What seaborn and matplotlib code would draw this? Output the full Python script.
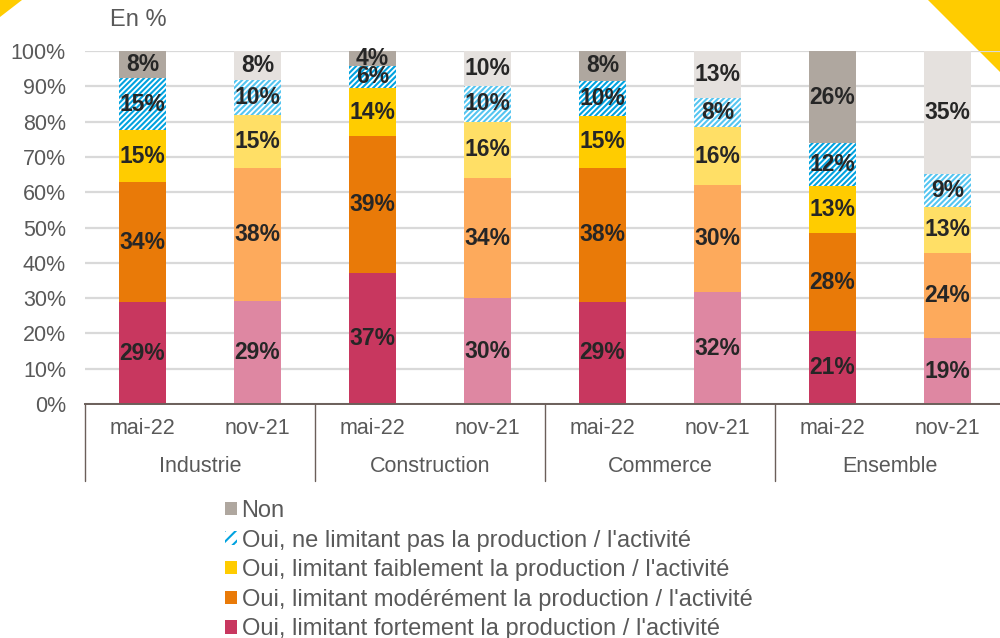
import numpy as np
import pandas as pd
import matplotlib
matplotlib.use("Agg")
import matplotlib.pyplot as plt
from matplotlib.patches import Patch, Polygon
import seaborn as sns

# ---------------- data ----------------
sectors = ["Industrie", "Construction", "Commerce", "Ensemble"]
periods = ["mai-22", "nov-21"]
series = [
    "Oui, limitant fortement la production / l'activité",
    "Oui, limitant modérément la production / l'activité",
    "Oui, limitant faiblement la production / l'activité",
    "Oui, ne limitant pas la production / l'activité",
    "Non",
]
# order of bars: Industrie mai-22, nov-21, Construction mai-22, nov-21, ...
fortement = [28.8, 29.2, 37.1, 30.0, 28.9, 31.6, 20.7, 18.6]
moderement = [34.0, 37.6, 38.8, 34.0, 38.0, 30.4, 27.7, 24.2]
faiblement = [14.8, 15.0, 13.6, 16.0, 14.8, 16.4, 13.4, 13.0]
ne_limitant_pas = [14.7, 10.0, 6.3, 10.2, 9.9, 8.3, 12.1, 9.4]
non = [7.7, 8.2, 4.2, 9.8, 8.4, 13.3, 26.1, 34.8]
layers = [fortement, moderement, faiblement, ne_limitant_pas, non]

colors_mai = ["#C8375F", "#E97A08", "#FFCC00", "#00A2DF", "#AFA79F"]
colors_nov = ["#DE87A2", "#FDAA5C", "#FFDF66", "#55C5F0", "#E5E1DE"]

# ---------------- style ----------------
sns.set_theme(style="white")
plt.rcParams["font.family"] = ["Liberation Sans", "DejaVu Sans"]
plt.rcParams["hatch.linewidth"] = 1.5

W, H = 1000, 638
fig = plt.figure(figsize=(W / 100, H / 100), dpi=100)
fig.patch.set_facecolor("white")

# decorative corner triangles (figure pixels)
def px(x, y):
    return (x / W, 1 - y / H)

fig.patches.append(Polygon([px(0, 0), px(22, 0), px(0, 17)], closed=True,
                           transform=fig.transFigure, facecolor="#FFCC00",
                           edgecolor="none", zorder=-1))
fig.patches.append(Polygon([px(928, 0), px(1000, 0), px(1000, 72)], closed=True,
                           transform=fig.transFigure, facecolor="#FFCC00",
                           edgecolor="none", zorder=-1))

ax_left, ax_right = 85, 1005
ax_top, ax_bottom = 51, 404
ax = fig.add_axes([ax_left / W, 1 - ax_bottom / H,
                   (ax_right - ax_left) / W, (ax_bottom - ax_top) / H])
ax.patch.set_visible(False)

cats = [f"{s} {p}" for s in sectors for p in periods]
bar_colors = []
for i in range(len(series)):
    bar_colors.append([colors_mai[i] if k % 2 == 0 else colors_nov[i]
                       for k in range(len(cats))])

cum = np.cumsum(np.array(layers), axis=0)

# draw from the top cumulative layer down so each lower layer overlays
for i in reversed(range(len(series))):
    df = pd.DataFrame({"cat": cats, "val": cum[i]})
    sns.barplot(data=df, x="cat", y="val", hue="cat", order=cats,
                hue_order=cats, palette=bar_colors[i], legend=False,
                width=0.41, saturation=1, errorbar=None, ax=ax,
                linewidth=0, zorder=2)
    if i == 3:
        for patch, c in zip(ax.patches[-len(cats):], bar_colors[i]):
            patch.set_facecolor("white")
            patch.set_edgecolor(c)
            patch.set_linewidth(0)
            patch.set_hatch("//////")

# data labels
for i in range(len(series)):
    bottoms = cum[i] - np.array(layers[i])
    for k in range(len(cats)):
        v = layers[i][k]
        ax.text(k, bottoms[k] + v / 2, f"{round(v):d}%", ha="center",
                va="center", fontsize=16.5, fontweight="bold",
                color="#262626", zorder=5)

ax.set_xlim(-0.5, len(cats) - 0.5)
ax.set_ylim(0, 100)
ax.set_yticks(np.arange(0, 101, 10))
ax.set_yticklabels([f"{v}%" for v in range(0, 101, 10)])
ax.tick_params(axis="y", labelsize=15.5, labelcolor="#595959", length=0, pad=13.7)
ax.set_xticks([])
ax.set_xlabel("")
ax.set_ylabel("")
for t in ax.get_yticklabels():
    t.set_horizontalalignment("right")
ax.yaxis.grid(True, color="#D9D9D9", linewidth=1.6, zorder=0)
ax.set_axisbelow(True)
for s in ["top", "right", "left"]:
    ax.spines[s].set_visible(False)
ax.spines["bottom"].set_color("#6B5F5A")
ax.spines["bottom"].set_linewidth(1.4)
ax.spines["bottom"].set_zorder(6)

# multi-level x axis
axis_h = ax_bottom - ax_top
trans = ax.get_xaxis_transform()
for k, c in enumerate(cats):
    ax.text(k, -24 / axis_h, periods[k % 2], ha="center", va="center",
            fontsize=15.5, color="#595959", transform=trans)
for g, s in enumerate(sectors):
    ax.text(2 * g + 0.5, -63 / axis_h, s, ha="center", va="center",
            fontsize=15.5, color="#595959", transform=trans)
for xsep in np.arange(-0.5, len(cats), 2):
    ax.plot([xsep, xsep], [0, -77 / axis_h], color="#6B5F5A", linewidth=1.0,
            transform=trans, clip_on=False)

fig.text(110 / W, 1 - 20 / H, "En %", ha="left", va="center", fontsize=17,
         color="#595959")

# legend
handles = []
labels = []
for i in reversed(range(len(series))):
    if i == 3:
        h = Patch(facecolor="white", edgecolor=colors_mai[i], hatch="///",
                  linewidth=0)
    else:
        h = Patch(facecolor=colors_mai[i], edgecolor="none")
    handles.append(h)
    labels.append(series[i])
leg = fig.legend(handles, labels, loc="upper left",
                 bbox_to_anchor=(225 / W, 1 - 500 / H), frameon=False,
                 fontsize=17, handlelength=0.5, handleheight=0.5,
                 handletextpad=0.2, labelspacing=0.32, borderpad=0,
                 borderaxespad=0)
for t in leg.get_texts():
    t.set_color("#595959")

fig.savefig("out.png", dpi=100)
